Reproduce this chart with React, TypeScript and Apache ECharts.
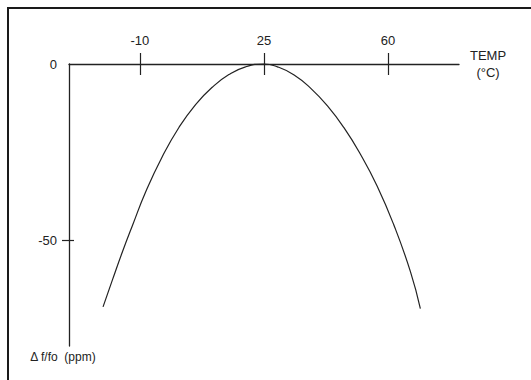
import { useEffect, useRef } from 'react';
import * as echarts from 'echarts';

// Temperature (°C) and frequency deviation (ppm)
const tempC = [-20.4, -17.7, -14.9, -12.1, -8.3, -3.7, 1, 5.7, 10.4, 15.1, 19.8, 25, 28.8, 33.5, 38.2, 42.9, 47.5, 52.2, 56.9, 61.6, 66.3, 69.1];
const deltaPpm = [-68.9, -61.1, -53.2, -45.8, -36.1, -26.3, -18.0, -11.5, -6.6, -3.0, -0.8, 0, -0.8, -3.1, -6.9, -11.9, -18.0, -25.6, -34.6, -45.6, -58.9, -69.4];

const xTickValues = [-10, 25, 60];
const yLabelValues = [0, -50];
const yTickValues = [-50];

const xMin = -30;
const xMax = 80;
const yMin = -80;
const yMax = 0;

const INK = '#222222';
const FONT = 'Liberation Sans, Arial, Helvetica, sans-serif';

export default function App() {
  const ref = useRef<HTMLDivElement>(null);
  useEffect(() => {
    if (!ref.current) return;
    const chart = echarts.init(ref.current, null, { renderer: 'svg' });
    const points = tempC.map((t, i) => [t, deltaPpm[i]]);
    chart.setOption({
      animation: false,
      backgroundColor: '#ffffff',
      textStyle: { fontFamily: FONT, color: INK },
      grid: { left: 69, top: 64, width: 390, height: 282, containLabel: false },
      xAxis: [
        {
          type: 'value',
          position: 'top',
          min: xMin,
          max: xMax,
          name: 'TEMP\n(°C)',
          nameLocation: 'end',
          nameGap: 29,
          nameTextStyle: {
            fontFamily: FONT,
            fontSize: 13,
            color: INK,
            align: 'center',
            lineHeight: 17,
            padding: [11, 0, 0, 0],
          },
          axisLine: { show: true, onZero: false, lineStyle: { color: INK, width: 1.3 } },
          axisTick: { show: true, inside: false, length: 11, customValues: xTickValues, lineStyle: { color: INK, width: 1.2 } },
          axisLabel: { show: true, customValues: xTickValues, margin: 17, fontSize: 13, fontFamily: FONT, color: INK },
          splitLine: { show: false },
        },
        {
          type: 'value',
          position: 'top',
          min: xMin,
          max: xMax,
          axisLine: { show: false, onZero: false },
          axisTick: { show: true, inside: true, length: 11, customValues: xTickValues, lineStyle: { color: INK, width: 1.2 } },
          axisLabel: { show: false },
          splitLine: { show: false },
        },
      ],
      yAxis: [
        {
          type: 'value',
          position: 'left',
          min: yMin,
          max: yMax,
          name: 'Δ f/fo  (ppm)',
          nameLocation: 'start',
          nameGap: 5,
          nameTextStyle: {
            fontFamily: FONT,
            fontSize: 12,
            color: INK,
            padding: [0, 12, 0, 0],
          },
          axisLine: { show: true, onZero: false, lineStyle: { color: INK, width: 1.3 } },
          axisTick: { show: true, inside: false, length: 7, customValues: yTickValues, lineStyle: { color: INK, width: 1.2 } },
          axisLabel: { show: true, customValues: yLabelValues, margin: 12, fontSize: 13, fontFamily: FONT, color: INK },
          splitLine: { show: false },
        },
        {
          type: 'value',
          position: 'left',
          min: yMin,
          max: yMax,
          axisLine: { show: false, onZero: false },
          axisTick: { show: true, inside: true, length: 5, customValues: yTickValues, lineStyle: { color: INK, width: 1.2 } },
          axisLabel: { show: false },
          splitLine: { show: false },
        },
      ],
      graphic: [
        {
          type: 'polyline',
          shape: { points: [[8, 380], [8, 8], [531, 8]] },
          style: { stroke: '#1a1a1a', lineWidth: 2, fill: 'none' },
          silent: true,
        },
      ],
      series: [
        {
          type: 'line',
          xAxisIndex: 0,
          yAxisIndex: 0,
          data: points,
          smooth: 0.5,
          showSymbol: false,
          symbol: 'none',
          clip: false,
          lineStyle: { color: INK, width: 1.2 },
        },
      ],
    });
    return () => chart.dispose();
  }, []);
  return <div ref={ref} style={{ position: 'absolute', left: 0, top: 0, width: 531, height: 380 }} />;
}
